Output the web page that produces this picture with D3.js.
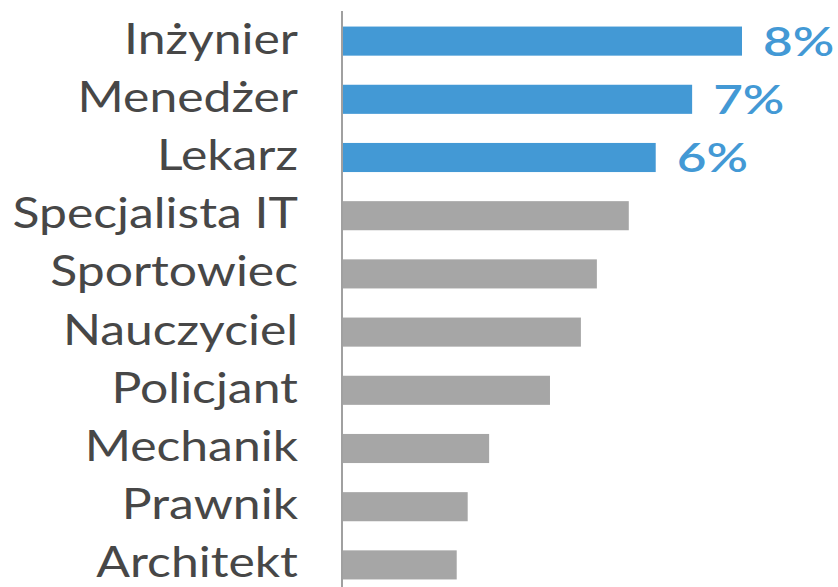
<!DOCTYPE html>
<html>
<head>
<meta charset="utf-8">
<script src="https://cdn.jsdelivr.net/npm/d3@7"></script>
<style>
  body { margin: 0; background: #fff; }
  svg { display: block; }
</style>
</head>
<body>
<div id="chart"></div>
<script>
const professions = ["Inżynier", "Menedżer", "Lekarz", "Specjalista IT", "Sportowiec",
  "Nauczyciel", "Policjant", "Mechanik", "Prawnik", "Architekt"];
const shares = [8.0, 7.0, 6.27, 5.73, 5.09, 4.77, 4.15, 2.93, 2.5, 2.28];
const highlighted = [true, true, true, false, false, false, false, false, false, false];

const width = 838;
const height = 587;
const axisX = 342;

const data = professions.map((p, i) => ({ name: p, value: shares[i], hi: highlighted[i] }));

const svg = d3.select("#chart")
  .append("svg")
  .attr("width", width)
  .attr("height", height);

const x = d3.scaleLinear()
  .domain([0, 8])
  .range([axisX + 1, 742]);

const y = d3.scaleBand()
  .domain(professions)
  .range([12, 594])
  .paddingInner(0.5)
  .paddingOuter(0.25);

const mid = d => y(d.name) + y.bandwidth() / 2;

svg.selectAll(".bar")
  .data(data)
  .enter()
  .append("rect")
  .attr("class", "bar")
  .attr("x", x(0))
  .attr("y", d => y(d.name))
  .attr("width", d => x(d.value) - x(0))
  .attr("height", y.bandwidth())
  .attr("fill", d => d.hi ? "#4399d5" : "#a6a6a6");

// vertical axis line
svg.append("line")
  .attr("x1", axisX)
  .attr("x2", axisX)
  .attr("y1", 11)
  .attr("y2", height)
  .attr("stroke", "#a0a0a0")
  .attr("stroke-width", 2);

// the original text is drawn slightly stretched sideways
svg.selectAll(".label")
  .data(data)
  .enter()
  .append("text")
  .attr("class", "label")
  .attr("transform", d => `translate(${axisX - 44},${mid(d) + 12.5}) scale(1.16,1)`)
  .attr("text-anchor", "end")
  .style("font-family", "Lato, sans-serif")
  .style("font-size", "43px")
  .style("fill", "#474747")
  .text(d => d.name);

svg.selectAll(".value")
  .data(data.filter(d => d.hi))
  .enter()
  .append("text")
  .attr("class", "value")
  .attr("transform", d => `translate(${x(d.value) + 21},${mid(d) + 14.5}) scale(1.28,1)`)
  .style("font-family", "Lato, sans-serif")
  .style("font-size", "40px")
  .style("font-weight", "600")
  .style("fill", "#4399d5")
  .text(d => Math.round(d.value) + "%");
</script>
</body>
</html>
